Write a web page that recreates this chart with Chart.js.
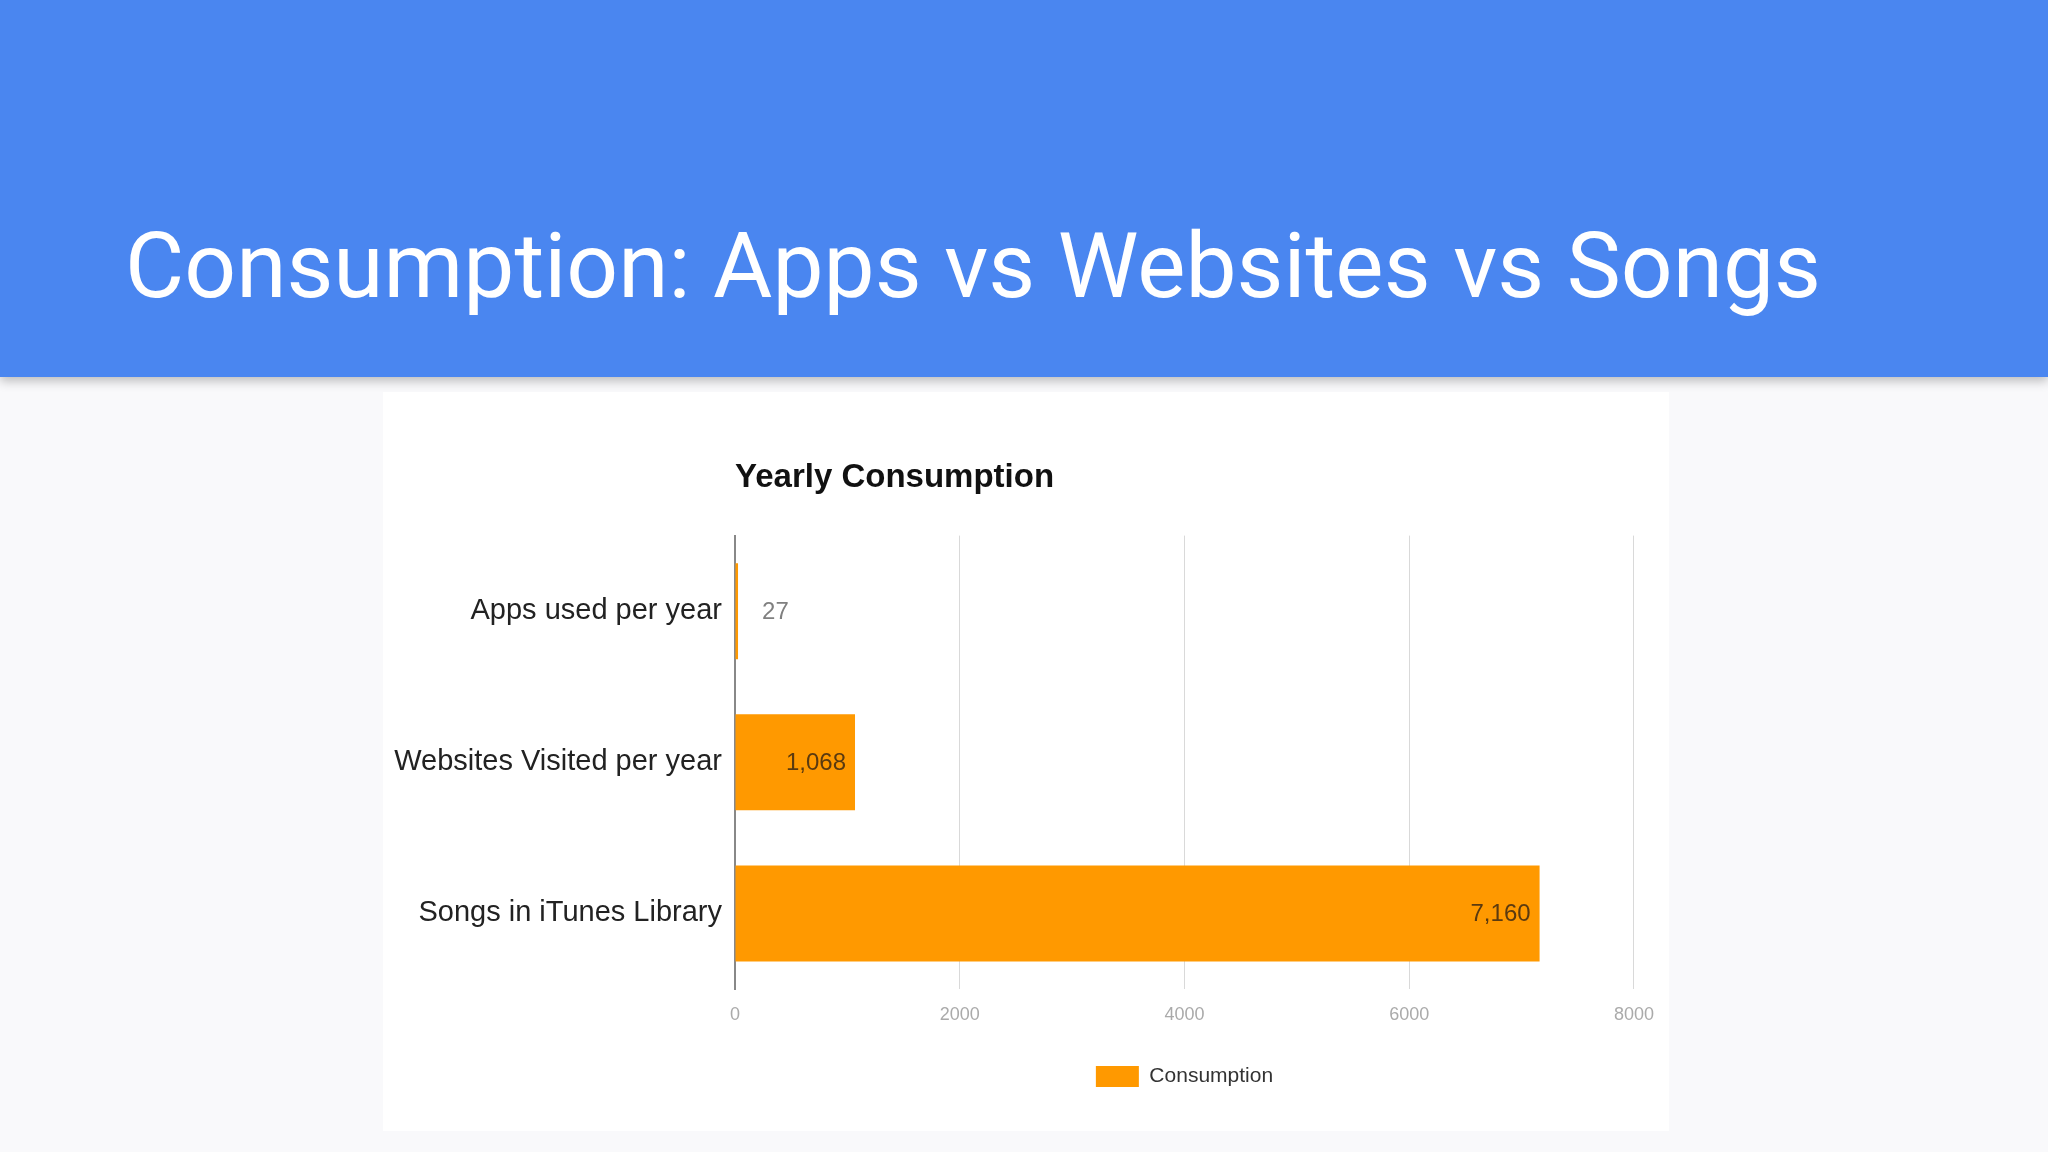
<!DOCTYPE html>
<html>
<head>
<meta charset="utf-8">
<script src="https://cdn.jsdelivr.net/npm/chart.js@4"></script>
<style>
    html, body { margin: 0; padding: 0; }
    body { width: 2048px; height: 1152px; background: #f9f9fb; position: relative; overflow: hidden; }
    #header {
        position: absolute; left: 0; top: 0; width: 2048px; height: 377px;
        background: #4a86f0; box-shadow: 0 4px 10px rgba(0,0,0,0.25);
    }
    #header h1 {
        position: absolute; left: 125px; top: 221px; margin: 0;
        font-family: Roboto, sans-serif; font-weight: 400; font-size: 91px;
        color: #ffffff; line-height: 1; white-space: nowrap;
    }
    #card { position: absolute; left: 383px; top: 392px; width: 1286px; height: 739px; background: #ffffff; }
</style>
</head>
<body>
<div id="header"><h1>Consumption: Apps vs Websites vs Songs</h1></div>
<div id="card"><canvas id="myChart"></canvas></div>
<script>
const categories = ['Apps used per year', 'Websites Visited per year', 'Songs in iTunes Library'];
const consumption = [27, 1068, 7160];
const xTicks = [0, 2000, 4000, 6000, 8000];

// value labels: outside the bar when it is too short, otherwise inside at the end
const valueLabels = {
    id: 'valueLabels',
    afterDatasetsDraw(chart) {
        const ctx = chart.ctx;
        const meta = chart.getDatasetMeta(0);
        ctx.save();
        ctx.font = '24px "Liberation Sans", Arial, sans-serif';
        ctx.textBaseline = 'middle';
        meta.data.forEach((bar, i) => {
            const text = consumption[i].toLocaleString('en-US');
            const w = ctx.measureText(text).width;
            if (bar.x - bar.base > w + 20) {
                ctx.fillStyle = '#5a3a10';
                ctx.textAlign = 'right';
                ctx.fillText(text, bar.x - 9, bar.y + 1);
            } else {
                ctx.fillStyle = '#808080';
                ctx.textAlign = 'left';
                ctx.fillText(text, bar.x + 24, bar.y + 1);
            }
        });
        ctx.restore();
    }
};

document.addEventListener('DOMContentLoaded', () => {
    const ctx = document.getElementById('myChart').getContext('2d');
    new Chart(ctx, {
        type: 'bar',
        data: {
            labels: categories,
            datasets: [{
                label: 'Consumption',
                data: consumption,
                backgroundColor: '#ff9900',
                borderWidth: 0,
                barPercentage: 0.635,
                categoryPercentage: 1.0
            }]
        },
        options: {
            indexAxis: 'y',
            responsive: true,
            maintainAspectRatio: false,
            animation: false,
            layout: { padding: { top: 66, right: 23, bottom: 34, left: 0 } },
            plugins: {
                title: {
                    display: true,
                    text: 'Yearly Consumption',
                    align: 'start',
                    fullSize: false,
                    color: '#111111',
                    font: { family: '"Liberation Sans", Arial, sans-serif', size: 33, weight: 'bold' },
                    padding: { top: 0, bottom: 38 }
                },
                legend: {
                    position: 'bottom',
                    fullSize: false,
                    labels: {
                        color: '#333333',
                        boxWidth: 43,
                        boxHeight: 21,
                        padding: 10,
                        font: { family: '"Liberation Sans", Arial, sans-serif', size: 21 }
                    }
                },
                tooltip: { enabled: false }
            },
            scales: {
                x: {
                    min: 0,
                    max: 8000,
                    afterBuildTicks: scale => { scale.ticks = xTicks.map(v => ({ value: v })); },
                    afterFit: scale => { scale.height = 67; },
                    grid: { color: '#d9d9d9', drawTicks: false },
                    border: { display: false },
                    ticks: {
                        color: '#aaaaaa',
                        padding: 15,
                        callback: value => String(value),
                        font: { family: '"Liberation Sans", Arial, sans-serif', size: 18 }
                    }
                },
                y: {
                    afterFit: scale => { scale.width = 352; },
                    grid: { display: false, drawTicks: false },
                    border: { display: true, color: '#888888', width: 2 },
                    ticks: {
                        color: '#222222',
                        padding: 13,
                        font: { family: '"Liberation Sans", Arial, sans-serif', size: 29 }
                    }
                }
            }
        },
        plugins: [valueLabels]
    });
});
</script>
</body>
</html>
